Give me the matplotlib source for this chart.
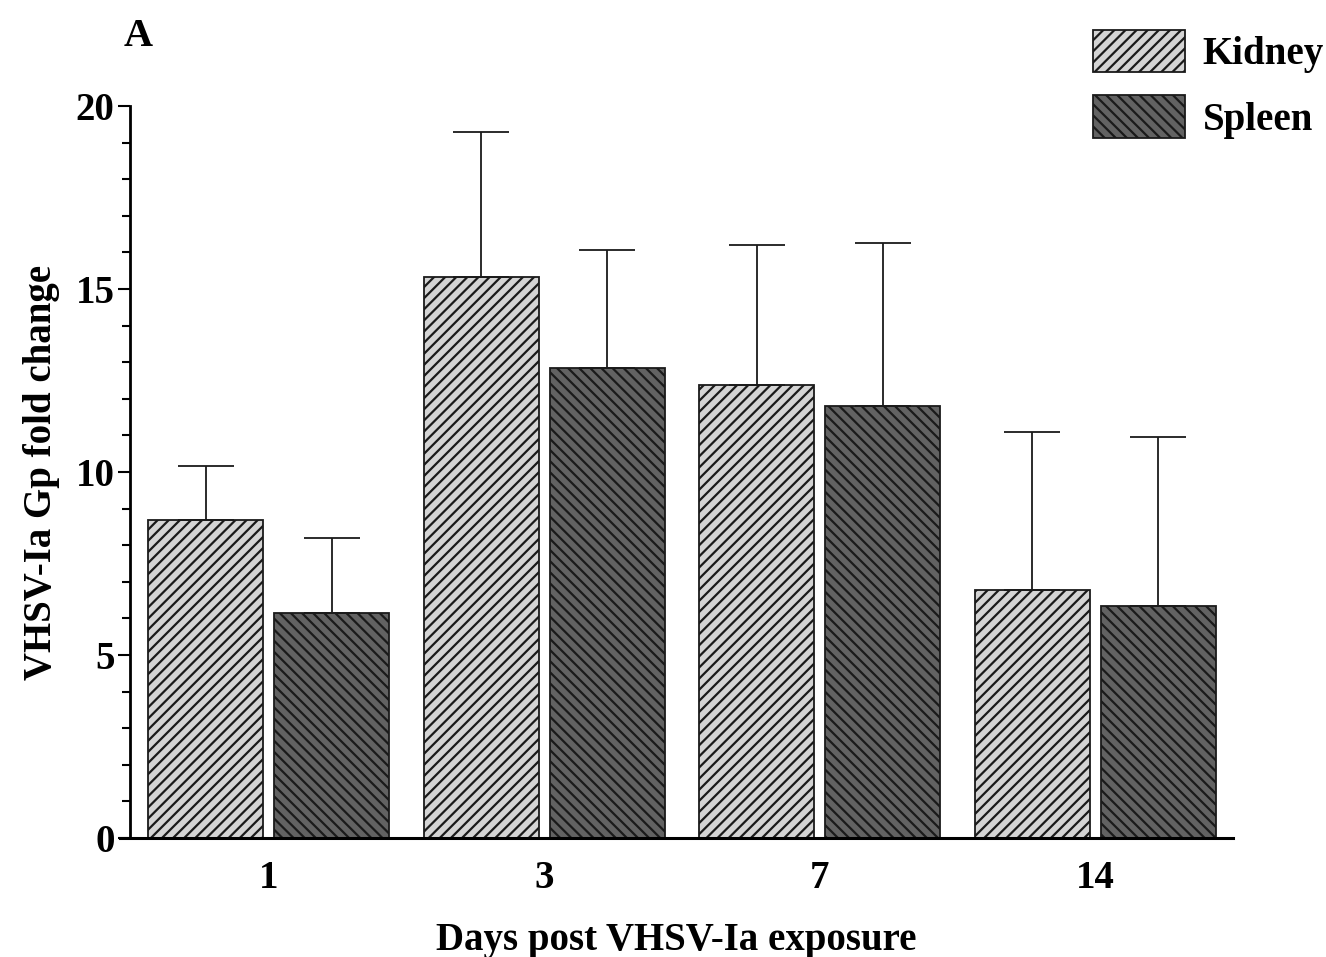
import matplotlib
matplotlib.use("Agg")
import matplotlib.pyplot as plt
import matplotlib.ticker as tkr
import numpy as np

plt.rcParams['font.family'] = ['Liberation Serif', 'DejaVu Serif']
plt.rcParams['font.weight'] = 'bold'
plt.rcParams['hatch.linewidth'] = 1.6

days = ['1', '3', '7', '14']
kidney_mean = [8.69, 15.33, 12.38, 6.78]
kidney_sd = [1.47, 3.97, 3.82, 4.31]
spleen_mean = [6.15, 12.84, 11.80, 6.34]
spleen_sd = [2.05, 3.23, 4.46, 4.62]

x = np.arange(len(days))
width = 0.417
offset = 0.229

fig = plt.figure(figsize=(13.26, 9.57), dpi=100)
axe = fig.add_axes([0.0905, 0.1243, 0.8394, 0.7649])

err_kw = dict(ecolor='#1a1a1a', elinewidth=1.3, capsize=20.5, capthick=1.3)
axe.bar(x - offset, kidney_mean, width, yerr=[np.zeros(4), kidney_sd],
        color='#d4d4d4', edgecolor='#1a1a1a', linewidth=1.3, hatch='///',
        error_kw=err_kw, label='Kidney', zorder=2)
axe.bar(x + offset, spleen_mean, width, yerr=[np.zeros(4), spleen_sd],
        color='#626262', edgecolor='#1a1a1a', linewidth=1.3, hatch='\\\\\\',
        error_kw=err_kw, label='Spleen', zorder=2)

axe.set_xlim(-0.54, 3.5)
axe.set_ylim(0, 20)
axe.set_xticks(x)
axe.set_xticklabels(days)
axe.yaxis.set_major_locator(tkr.MultipleLocator(5))
axe.yaxis.set_minor_locator(tkr.MultipleLocator(1))

for side in ['top', 'right']:
    axe.spines[side].set_visible(False)
axe.spines['left'].set_position(('axes', 0.009))
axe.spines['left'].set_linewidth(2.0)
axe.spines['bottom'].set_linewidth(2.2)
axe.spines['left'].set_zorder(3)

axe.tick_params(axis='x', length=0, pad=16, labelsize=28)
axe.tick_params(axis='y', which='major', length=9, width=1.5, pad=2, labelsize=28)
axe.tick_params(axis='y', which='minor', length=6, width=1.5)

axe.set_ylabel('VHSV-Ia Gp fold change', fontsize=28, fontweight='bold', labelpad=11)
axe.set_xlabel('Days post VHSV-Ia exposure', fontsize=28, fontweight='bold', labelpad=18)

fig.text(0.104, 0.962, 'A', fontsize=29, fontweight='bold', va='center', ha='center')

axe.legend(loc='upper left', bbox_to_anchor=(0.8243, 0.9687),
           bbox_transform=fig.transFigure, fontsize=28, frameon=False,
           borderpad=0, borderaxespad=0, handlelength=2.37, handleheight=1.3,
           labelspacing=0.57, handletextpad=0.45)

plt.savefig('out.png', dpi=100)
